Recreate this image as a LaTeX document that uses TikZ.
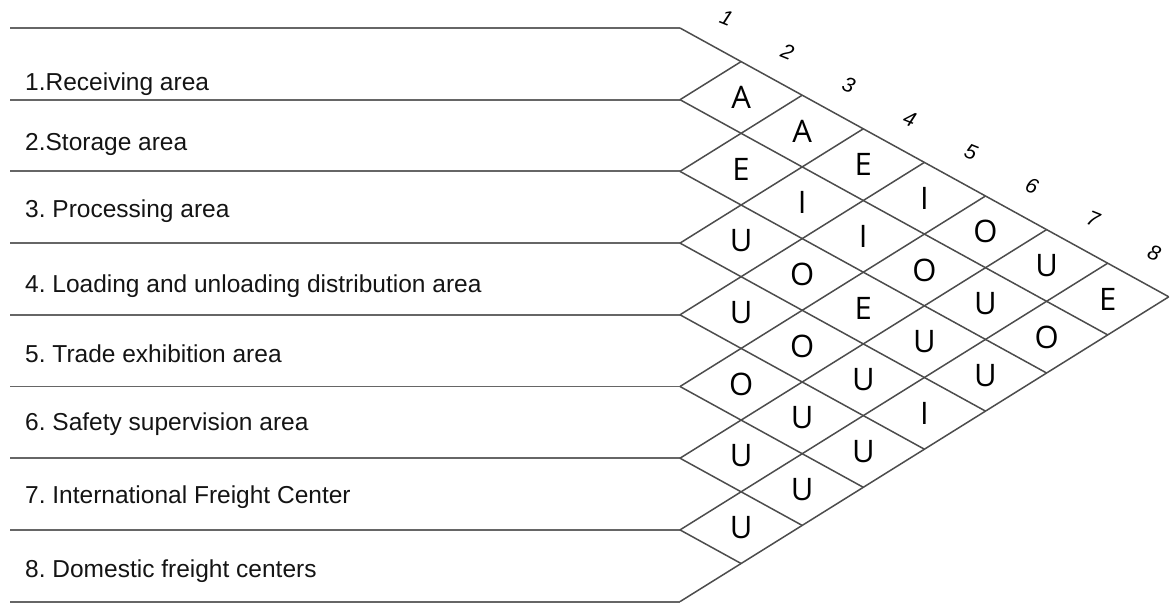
\documentclass[tikz,border=0pt]{standalone}
\usepackage{fontspec}
\setmainfont{Liberation Sans}
\newfontfamily\letterfont{Open Sans}
\usetikzlibrary{calc}
\def\gridpt(#1,#2){({680+61.1*((#1)-(#2))},{28+33.6*(#1)+38.1*(#2)})}
\colorlet{chart line}{black!70}
\colorlet{row line}{black!60}
\tikzset{rowline/.style={draw=row line, line width=1.9pt},
    chart/.style={draw=chart line, line width=1.5pt},
    relation/.style={font=\letterfont\fontsize{31}{31}\selectfont, text=black},
    arealabel/.style={anchor=base west, inner sep=0pt, font=\frenchspacing\fontsize{24.5}{28}\selectfont, text=black!92},
    colnum/.style={font=\itshape\fontsize{21}{21}\selectfont, rotate=-22, text=black}}

\begin{document}
\begin{tikzpicture}[x=1pt, y=-1pt]
 \useasboundingbox (0,0) rectangle (1170,606);

 % row lines and their tips
 \foreach \k in {0,...,8} {
   \coordinate (tip\k) at (680,{28+71.7*\k});
   \draw[rowline] (10,{28+71.7*\k}) -- (tip\k);
 }
 \foreach \k in {0,...,7} \draw[chart] (tip\k) -- \gridpt(8,\k);
 \foreach \k in {1,...,8} \draw[chart] (tip\k) -- \gridpt(\k,0);

 % column numbers
 \foreach \k in {1,...,8}
   \node[colnum] (num\k) at ({680+61.1*(\k-0.5)+16},{28+33.6*(\k-0.5)-27}) {\k};

 % relations
 \foreach \t/\s/\rel in {0/1/A, 0/2/A, 0/3/E, 0/4/I, 0/5/O, 0/6/U, 0/7/E,
     1/2/E, 1/3/I, 1/4/I, 1/5/O, 1/6/U, 1/7/O,
     2/3/U, 2/4/O, 2/5/E, 2/6/U, 2/7/U,
     3/4/U, 3/5/O, 3/6/U, 3/7/I,
     4/5/O, 4/6/U, 4/7/U,
     5/6/U, 5/7/U,
     6/7/U}
   \node[relation] (rel\t\s) at \gridpt(\s+0.5,\t+0.5) {\rel};

 % area names
 \foreach \n/\base/\txt in {1/90/1.Receiving area, 2/150/2.Storage area,
     3/217/3. Processing area, 4/292/4. Loading and unloading distribution area,
     5/362/5. Trade exhibition area, 6/430/6. Safety supervision area,
     7/503/7. International Freight Center, 8/577/8. Domestic freight centers}
   \node[arealabel] (area\n) at (25,\base) {\txt};

\end{tikzpicture}
\end{document}
